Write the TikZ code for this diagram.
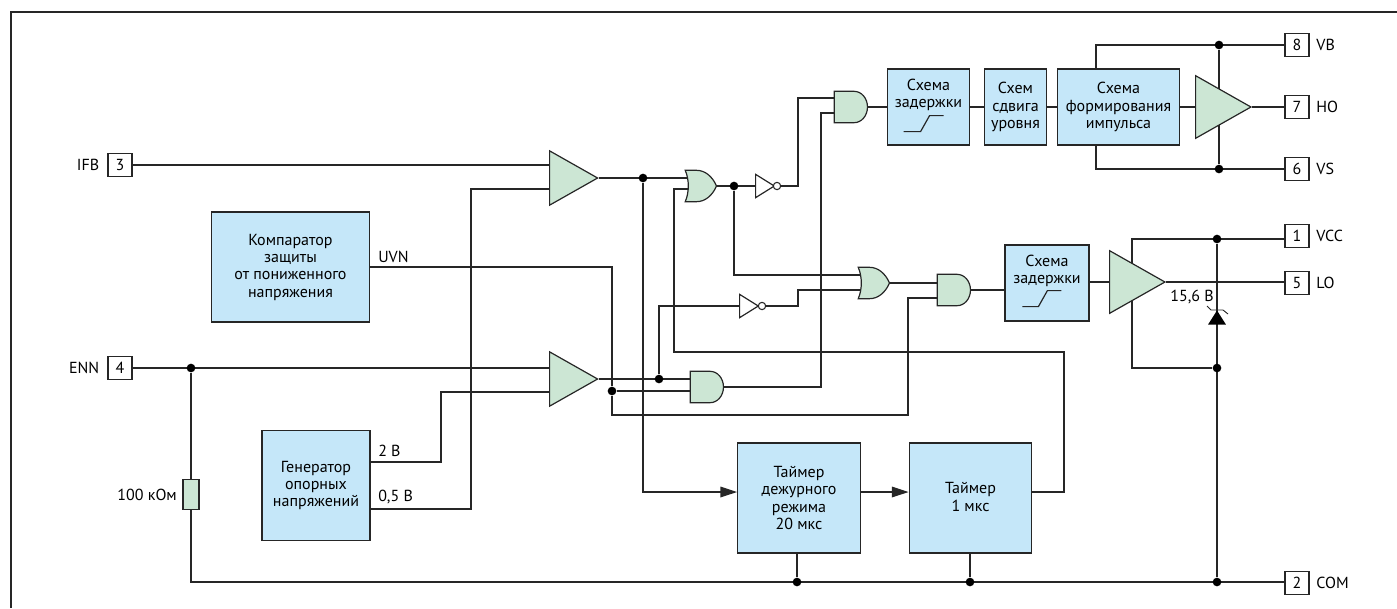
\documentclass[tikz,border=0pt]{standalone}
\usepackage{fontspec}
\setmainfont{PT Sans}
\usepackage{tikz}
\usetikzlibrary{shapes.geometric,shapes.gates.logic.US,arrows.meta,positioning,calc,backgrounds}
\definecolor{wireblack}{HTML}{262626}
\definecolor{softblue}{HTML}{C5E7F9}
\definecolor{softgreen}{HTML}{CCE6D4}

\begin{document}
\begin{tikzpicture}[
    x=0.75pt, y=-0.75pt,
    every node/.style={font=\fontsize{12}{13}\selectfont, text=black},
    wire/.style={draw=wireblack, line width=0.9pt},
    blockbox/.style={rectangle, draw=wireblack, fill=softblue, line width=0.9pt, align=center, inner sep=0pt},
    pinbox/.style={rectangle, draw=wireblack, fill=white, line width=0.8pt, minimum width=18pt, minimum height=17pt, inner sep=0pt},
    pinlabel/.style={inner sep=0pt},
    amp/.style={isosceles triangle, isosceles triangle apex angle=59, draw=wireblack, fill=softgreen, line width=0.9pt, inner sep=0pt, anchor=lower side},
    invgate/.style={isosceles triangle, isosceles triangle apex angle=64, draw=wireblack, fill=white, line width=0.9pt, inner sep=0pt, minimum height=14pt, anchor=lower side},
    bubble/.style={circle, draw=wireblack, fill=white, line width=0.8pt, inner sep=0pt, minimum size=5.5pt},
    andgate/.style={and gate US, draw=wireblack, fill=softgreen, line width=0.9pt, logic gate inputs=nn, minimum height=23.5pt, inner sep=0pt, anchor=output, transform shape, xscale=0.85},
    orgate/.style={or gate US, draw=wireblack, fill=softgreen, line width=0.9pt, logic gate inputs=nn, minimum height=23.5pt, inner sep=0pt, anchor=output, transform shape, xscale=0.73},
    dot/.style={circle, fill=black, inner sep=0pt, minimum size=6.5pt},
    flow/.style={wire, -{Triangle[length=12.5pt,width=8pt]}}
]
  \useasboundingbox (0,0) rectangle (1397,608);
  \draw[wire] (11,608) -- (11,12) -- (1397,12);

  \node[pinbox] (pin3) at (120,165) {3};
  \node[pinbox] (pin4) at (120,368) {4};
  \node[pinbox] (pin8) at (1297,45) {8};
  \node[pinbox] (pin7) at (1297,107) {7};
  \node[pinbox] (pin6) at (1297,169) {6};
  \node[pinbox] (pin1) at (1297,236) {1};
  \node[pinbox] (pin5) at (1297,283) {5};
  \node[pinbox] (pin2) at (1297,583) {2};
  \node[pinlabel, left=6pt of pin3] (lblifb) {IFB};
  \node[pinlabel, left=6pt of pin4] (lblenn) {ENN};
  \node[pinlabel, right=5pt of pin8] (lblvb) {VB};
  \node[pinlabel, right=5pt of pin7] (lblho) {HO};
  \node[pinlabel, right=5pt of pin6] (lblvs) {VS};
  \node[pinlabel, right=5pt of pin1] (lblvcc) {VCC};
  \node[pinlabel, right=5pt of pin5] (lbllo) {LO};
  \node[pinlabel, right=5pt of pin2] (lblcom) {COM};

  \node[blockbox, minimum width=119pt, minimum height=82.5pt] (uvlo) at (290.5,267) {Компаратор\\защиты\\от пониженного\\напряжения};
  \node[blockbox, minimum width=81pt, minimum height=82pt] (vref) at (316,485.5) {Генератор\\опорных\\напряжений};
  \node[blockbox, minimum width=92pt, minimum height=82.5pt] (tmrstby) at (799,498) {Таймер\\дежурного\\режима\\20 мкс};
  \node[blockbox, minimum width=92pt, minimum height=82.5pt] (tmrone) at (970.5,498) {\mbox{}\\[-6pt]Таймер\\1 мкс};
  \node[blockbox, minimum width=62pt, minimum height=57pt] (delayhi) at (928.5,107) {Схема\\задержки\\[8pt]\mbox{}};
  \node[blockbox, minimum width=47pt, minimum height=57pt] (shift) at (1015.5,107) {Схем\\сдвига\\уровня};
  \node[blockbox, minimum width=91pt, minimum height=57pt] (pulse) at (1118.5,107) {Схема\\формирования\\импульса};
  \node[blockbox, minimum width=63pt, minimum height=57pt] (delaylo) at (1047,283) {Схема\\задержки\\[8pt]\mbox{}};
  \draw[wire] ($(delayhi.south west)+(17,-14)$) -- ++(17,0) -- ++(9,-16) -- ++(14,0);
  \draw[wire] ($(delaylo.south west)+(18,-15)$) -- ++(16,0) -- ++(9,-16) -- ++(14,0);

  \node[amp, minimum height=36pt] (cmpa) at (549,178) {};
  \node[amp, minimum height=36pt] (cmpb) at (549,379) {};
  \node[amp, minimum height=41.5pt] (drvhi) at (1195,107) {};
  \node[amp, minimum height=41.5pt] (drvlo) at (1109,282) {};
  \node[invgate] (inva) at (755,186) {};
  \node[bubble] (bba) at (777,186) {};
  \node[invgate] (invb) at (739,306) {};
  \node[bubble] (bbb) at (762,306) {};
  \node[andgate] (anda) at (868,107) {};
  \node[andgate] (andb) at (971,290) {};
  \node[andgate] (andc) at (724,387) {};
  \node[orgate] (ora) at (717,186) {};
  \node[orgate] (orb) at (890,283) {};
  \node[rectangle, draw=wireblack, fill=softgreen, line width=0.9pt, minimum width=12pt, minimum height=23pt, inner sep=0pt] (rpull) at (191,494.5) {};
  \node[left=4pt of rpull, inner sep=0pt] (lblr) {100 кОм};

  \node[dot] (jena) at (191,368) {};
  \node[dot] (jcmpa) at (643,178) {};
  \node[dot] (jora) at (734,186) {};
  \node[dot] (jcmpb) at (659,379) {};
  \node[dot] (juv) at (612,391) {};
  \node[dot] (jvb) at (1219,45) {};
  \node[dot] (jvs) at (1219,169) {};
  \node[dot] (jvcc) at (1217,239) {};
  \node[dot] (jzn) at (1217,368) {};
  \node[dot] (jcoma) at (797,582) {};
  \node[dot] (jcomb) at (970,582) {};
  \node[dot] (jcomc) at (1217,582) {};
  \node[inner sep=0pt, anchor=east] (lblzn) at (1214,297) {15,6 В};
  \node[inner sep=0pt, anchor=west] (lbluv) at (378,257) {UVN};
  \node[inner sep=0pt, anchor=west] (lbltwo) at (378,451) {2 В};
  \node[inner sep=0pt, anchor=west] (lblhalf) at (378,497) {0,5 В};

  \node[isosceles triangle, shape border rotate=90, isosceles triangle apex angle=65, fill=black, inner sep=0pt, minimum height=10.5pt, anchor=apex] (zener) at (1217,310) {};
  \draw[wire, line width=0.7pt] (1207,306) -- (1211,310) -- (1223,310) -- (1228,314);

  \begin{scope}[on background layer]
    \draw[wire] (pin3) -- (pin3 -| cmpa.lower side);
    \draw[wire] (pin4) -- (pin4 -| cmpb.lower side);
    \draw[wire] (jena) -- (rpull);
    \draw[wire] (rpull) |- (pin2.west |- jcomc);
    \draw[wire] (vref.east |- 0,462) -- (441,462) |- (cmpb.lower side |- 0,392);
    \draw[wire] (vref.east |- 0,509) -- (471,509) |- (cmpa.lower side |- 0,189);
    \draw[wire] (uvlo.east |- 0,267) -| (juv);
    \draw[wire] (juv) |- (908,415) |- (andb.center |- 0,298);
    \draw[wire] (juv) -- (juv -| andc.center);
    \draw[wire] (cmpb.apex) -- (cmpb.apex -| andc.center);
    \draw[wire] (jcmpb) |- (invb.lower side);
    \draw[wire] (cmpa.apex) -- (cmpa.apex -| ora.center);
    \draw[flow] (jcmpa) |- (tmrstby.west |- 0,492);
    \draw[wire] (ora.output) -- (inva.lower side);
    \draw[wire] (jora) |- (orb.center |- 0,275);
    \draw[wire] (bba) -- (798,186) |- (anda.center |- 0,98);
    \draw[wire] (bbb) -- (798,306) |- (orb.center |- 0,290);
    \draw[wire] (andc.output) -| (821,113) -- (anda.center |- 0,113);
    \draw[wire] (orb.output) -- (orb.output -| andb.center);
    \draw[wire] (andb.output) -- (delaylo.west |- andb.output);
    \draw[wire] (anda.output) -- (delayhi.west |- anda.output);
    \draw[wire] (delayhi) -- (shift);
    \draw[wire] (shift) -- (pulse);
    \draw[wire] (pulse) -- (drvhi.lower side);
    \draw[wire] (drvhi.apex) -- (pin7);
    \draw[wire] (delaylo.east |- drvlo.apex) -- (drvlo.lower side);
    \draw[wire] (drvlo.apex) -- (pin5.west |- drvlo.apex);
    \draw[wire] (pulse.north -| 1096,0) |- (pin8);
    \draw[wire] (pulse.south -| 1096,0) |- (pin6);
    \draw[wire] (jvb) -- (jvs);
    \draw[wire] (jvs) -- (pin6);
    \draw[wire] (1132,282) |- (pin1.west |- jvcc);
    \draw[wire] (1132,282) |- (jzn);
    \draw[wire] (jvcc) -- (jcomc);
    \draw[flow] (tmrstby.east |- 0,492) -- (tmrone.west |- 0,492);
    \draw[wire] (tmrone.east |- 0,492) -- (1064,492) |- (674,352) |- (ora.center |- 0,189);
    \draw[wire] (tmrstby.south -| jcoma) -- (jcoma);
    \draw[wire] (tmrone.south -| jcomb) -- (jcomb);
  \end{scope}
\end{tikzpicture}
\end{document}
